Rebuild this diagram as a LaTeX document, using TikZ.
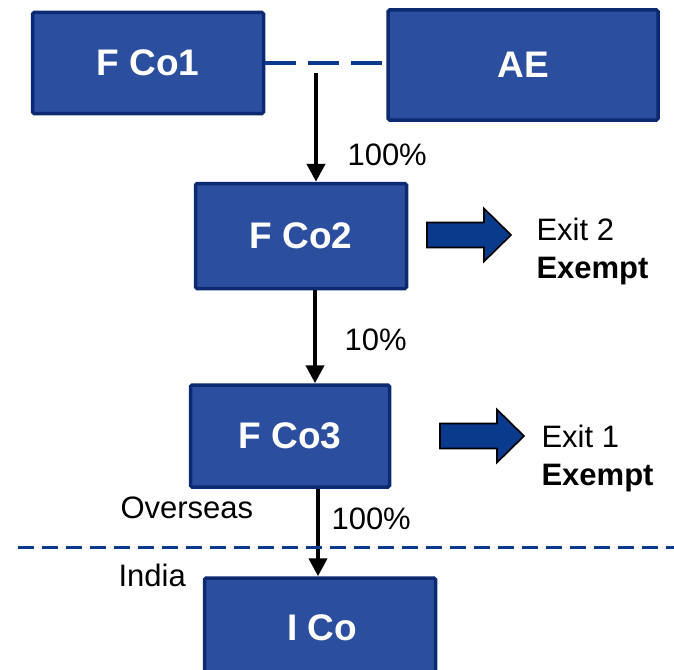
\documentclass[tikz,border=0pt]{standalone}
\usepackage{fontspec}
\setmainfont{Liberation Sans}
\usepackage{tikz}
\usetikzlibrary{calc,arrows.meta}
\definecolor{boxblue}{HTML}{2C4E9E}
\definecolor{navy}{HTML}{0C2A72}
\definecolor{arrblue}{HTML}{0A3A8C}

\tikzset{
  entity/.style={draw=navy, line width=3.5pt, fill=boxblue, rounded corners=1.5pt,
    text=white, font=\fontsize{37}{40}\selectfont\bfseries, inner sep=0pt},
  link/.style={line width=4.2pt, -{Triangle[width=18pt,length=18pt]}},
  pct/.style={font=\fontsize{31}{34}\selectfont, anchor=west},
  exitnote/.style={font=\fontsize{31}{38}\selectfont, align=left, anchor=west},
  exitarrow/.style={draw=black, line width=1.6pt, fill=arrblue, line join=miter},
  border/.style={arrblue, line width=3pt, dash pattern=on 16pt off 8pt}
}

\begin{document}
\begin{tikzpicture}[x=1pt, y=-1pt]
  \useasboundingbox (0,0) rectangle (674,669);
  \clip (0,0) rectangle (674,669);

  % Societa
  \node[entity, minimum width=231pt, minimum height=101pt] (fco1) at (148,63) {F Co1};
  \node[entity, minimum width=270pt, minimum height=110pt] (ae) at (523,65) {AE};
  \node[entity, minimum width=211pt, minimum height=105pt] (fco2) at (301,236) {F Co2};
  \node[entity, minimum width=199pt, minimum height=102pt] (fco3) at (290,436) {F Co3};
  \node[entity, minimum width=231pt, minimum height=120pt] (ico) at (320,638) {};
  \node[text=white, font=\fontsize{37}{40}\selectfont\bfseries] (icotext) at (322,628) {I Co};

  % Legame tratteggiato F Co1 -- AE
  \draw[arrblue, line width=3pt, dash pattern=on 31pt off 12pt] (fco1.east) -- (fco1.east -| ae.west);

  % Partecipazioni
  \coordinate (top) at (316,73);
  \draw[link] (top) -- (top |- fco2.north);
  \draw[link] ([xshift=14pt]fco2.south) -- ([xshift=14pt]fco2.south |- fco3.north);
  \draw[link] ([xshift=28pt]fco3.south) -- ([xshift=28pt]fco3.south |- ico.north);

  \node[pct] (p1) at (344,155) {100\%};
  \node[pct] (p2) at (341,340) {10\%};
  \node[pct] (p3) at (328,519) {100\%};

  % Uscite
  \coordinate (e2) at (427,235);
  \coordinate (e1) at (440,436);
  \foreach \c in {e2,e1}
    \draw[exitarrow] (\c) ++(0,-12.5) -- ++(57,0) -- ++(0,-14) -- ++(27,26.5)
      -- ++(-27,26.5) -- ++(0,-14) -- ++(-57,0) -- cycle;
  \node[exitnote] (x2) at (533,251) {Exit 2\\\textbf{Exempt}};
  \node[exitnote] (x1) at (538,458) {Exit 1\\\textbf{Exempt}};

  % Confine Overseas / India
  \coordinate (bl) at (18,547);
  \coordinate (br) at (674,547);
  \draw[border] (bl) -- (br);
  \node[pct] (ovs) at (117,508) {Overseas};
  \node[pct] (ind) at (115,575) {India};
\end{tikzpicture}
\end{document}
